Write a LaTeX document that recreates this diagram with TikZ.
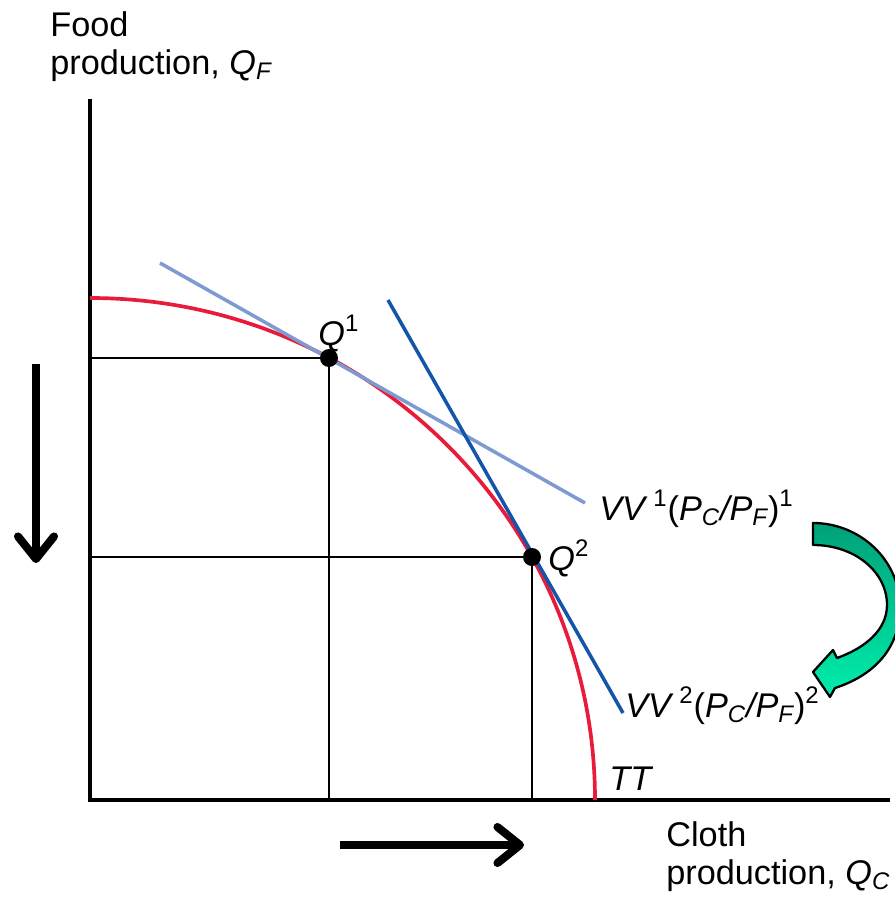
\documentclass[tikz,border=0pt]{standalone}
\usepackage{fontspec}
\setmainfont{Liberation Sans}
\usetikzlibrary{arrows.meta}
\newcommand{\lsub}[1]{\textsubscript{\itshape #1}}
\newcommand{\lsup}[1]{\textsuperscript{#1}}
\definecolor{ttred}{RGB}{232,28,58}
\definecolor{vvone}{RGB}{125,155,210}
\definecolor{vvtwo}{RGB}{20,85,170}
\definecolor{greentop}{RGB}{0,160,120}
\definecolor{greenbot}{RGB}{0,238,172}
\begin{document}
\begin{tikzpicture}[x=0.02cm, y=-0.02cm,
    every node/.style={font=\fontsize{19.5}{21.5}\selectfont, inner sep=0pt},
    axis/.style={line width=2.3pt},
    guide/.style={line width=1.6pt},
    dot/.style={circle, fill=black, minimum size=0.36cm},
    move/.style={line width=4.6pt, -{Straight Barb[length=0.45cm, width=0.72cm, round]}}]
    \useasboundingbox (0,0) rectangle (895,899);
    % axes
    \coordinate (o) at (90,800);
    \coordinate (ytop) at (90,99);
    \coordinate (xend) at (890,800);
    \draw[axis] (ytop) -- (o) -- (xend);
    \node[anchor=base west, align=left] (ylbl) at (50,74) {Food\\production, \textit{Q}\lsub{F}};
    \node[anchor=base west, align=left] (xlbl) at (666,884) {Cloth\\production, \textit{Q}\lsub{C}};
    % curve TT
    \draw[ttred, line width=2.1pt] (90,298) arc[start angle=-90, end angle=0, x radius=505, y radius=502];
    \node[anchor=base west] (tt) at (609,790) {\textit{TT}};
    % price lines
    \coordinate (v1a) at (160,263);
    \coordinate (v1b) at (585,503);
    \coordinate (v2a) at (388,300);
    \coordinate (v2b) at (623,713);
    \draw[vvone, line width=2pt] (v1a) -- (v1b);
    \draw[vvtwo, line width=2pt] (v2a) -- (v2b);
    \node[anchor=base west] (vv1) at (599,520) {\textit{VV}\,\lsup{1}(\textit{P}\lsub{C}\textit{/P}\lsub{F})\lsup{1}};
    \node[anchor=base west] (vv2) at (625,717) {\textit{VV}\,\lsup{2}(\textit{P}\lsub{C}\textit{/P}\lsub{F})\lsup{2}};
    % production points
    \node[dot] (q1) at (329,358) {};
    \node[dot] (q2) at (532,557) {};
    \node[anchor=base west] (q1lbl) at (318,345) {\textit{Q}\lsup{1}};
    \node[anchor=base west] (q2lbl) at (548,570) {\textit{Q}\lsup{2}};
    \draw[guide] (q1.center -| o) -- (q1.center) -- (q1.center |- o);
    \draw[guide] (q2.center -| o) -- (q2.center) -- (q2.center |- o);
    % shift arrows
    \coordinate (da) at (36,364);
    \coordinate (db) at (36,563);
    \coordinate (ra) at (340,845);
    \coordinate (rb) at (524,845);
    \draw[move] (da) -- (db);
    \draw[move] (ra) -- (rb);
    % green turn arrow
    \draw[line width=1.3pt, line join=round, top color=greentop, bottom color=greenbot]
        (813,523) .. controls (860,523) and (900,560) .. (900,607)
        .. controls (900,650) and (872,676) .. (835,688)
        -- (830,697) -- (813,672) -- (833,650) -- (837,658)
        .. controls (865,648) and (887,630) .. (887,605)
        .. controls (887,572) and (855,545) .. (813,545) -- cycle;
\end{tikzpicture}
\end{document}
